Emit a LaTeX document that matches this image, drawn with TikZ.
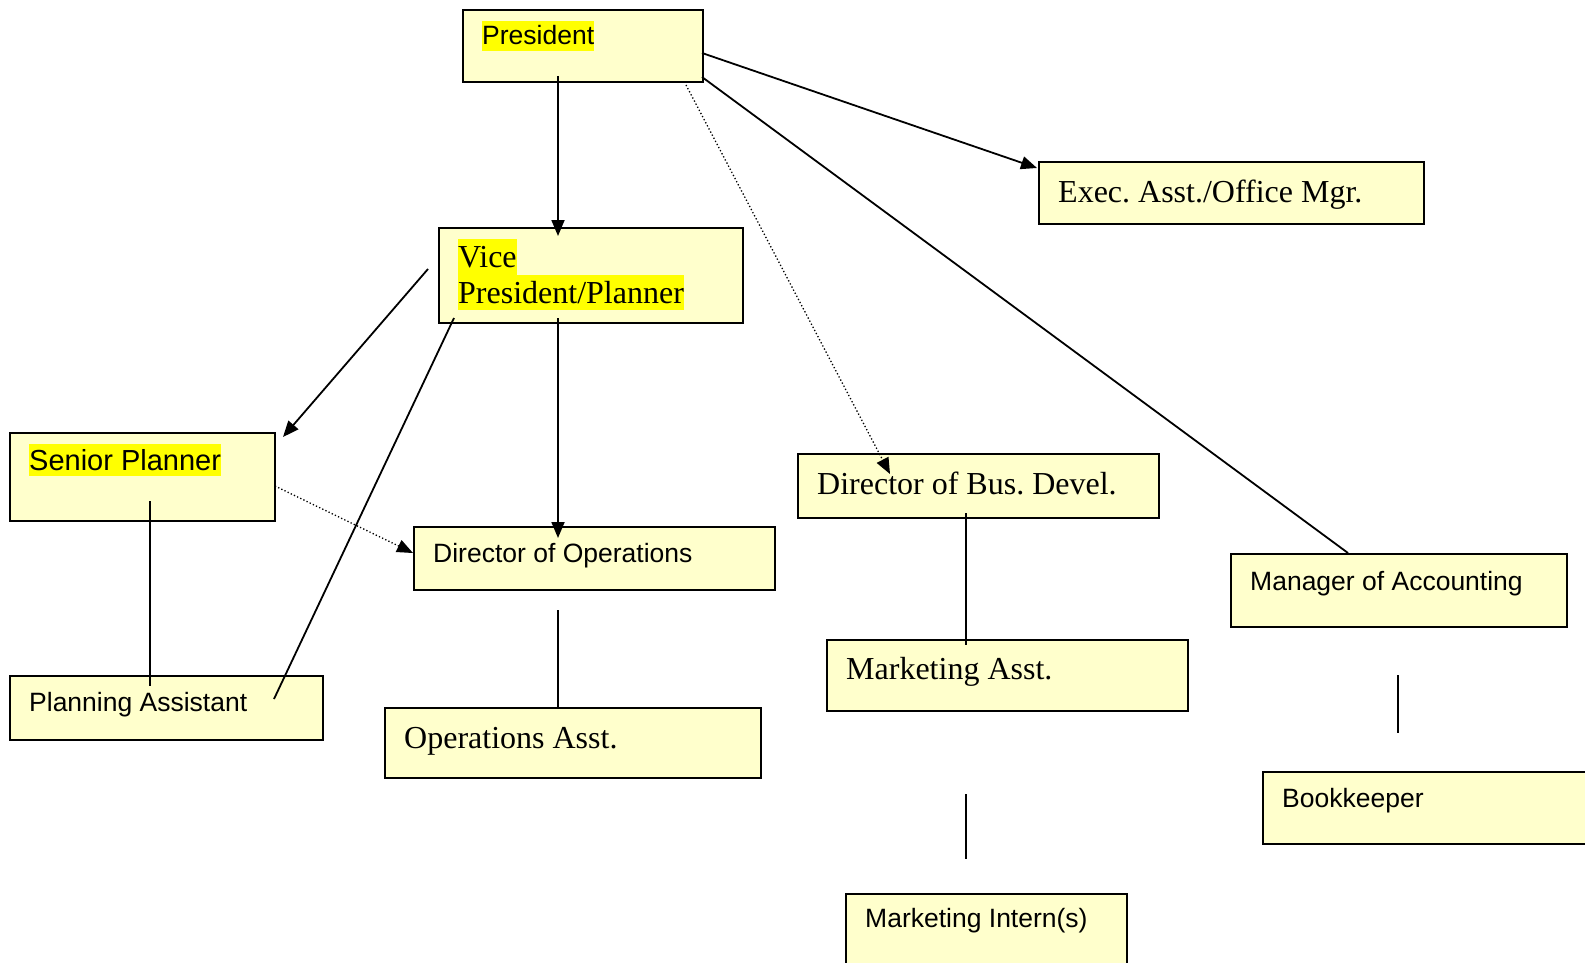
\documentclass[tikz,border=0pt]{standalone}
\usepackage{fontspec}
\setmainfont{Liberation Serif}
\setsansfont{Liberation Sans}
\usetikzlibrary{arrows.meta}
\definecolor{boxfill}{HTML}{FFFFCC}
\definecolor{hilite}{HTML}{FFFF00}
\frenchspacing
\tikzset{
  box/.style={draw, line width=1.8pt, fill=boxfill, anchor=north west, inner sep=0pt},
  tag/.style={anchor=base west, inner sep=0pt, xshift=20pt},
  sans/.style={font=\sffamily\fontsize{26.5}{30}\selectfont, text height=24pt, text depth=5.6pt},
  bigsans/.style={font=\sffamily\fontsize{29}{33}\selectfont, text height=26.2pt, text depth=6.1pt},
  serif/.style={font=\rmfamily\fontsize{32}{36}\selectfont, text height=28.5pt, text depth=6.9pt},
  hl/.style={fill=hilite},
  link/.style={line width=1.8pt},
  arrow/.style={link, -{Triangle[length=16pt,width=13pt]}},
  dots/.style={line width=1.3pt, dash pattern=on 1.3pt off 2.2pt, -{Triangle[length=16pt,width=13pt]}},
}
\begin{document}
\begin{tikzpicture}[x=1pt,y=-1pt]
\useasboundingbox (0,0) rectangle (1585,963);
\clip (0,0) rectangle (1585,963);
\node[box, minimum width=240, minimum height=72, label={[tag, sans, hl, yshift=-36pt]north west:President}] (pres) at (462,9) {};
\node[box, minimum width=304, minimum height=95, label={[tag, serif, hl, yshift=-40.7pt]north west:Vice}, label={[tag, serif, hl, yshift=-76.3pt]north west:President/Planner}] (vp) at (438,227) {};
\node[box, minimum width=385, minimum height=62, label={[tag, serif, yshift=-41pt]north west:Exec. Asst./Office Mgr.}] (exec) at (1038,161) {};
\node[box, minimum width=265, minimum height=88, label={[tag, bigsans, hl, yshift=-38pt]north west:Senior Planner}] (senior) at (9,432) {};
\node[box, minimum width=313, minimum height=64, label={[tag, sans, yshift=-36pt]north west:Planning Assistant}] (plan) at (9,675) {};
\node[box, minimum width=361, minimum height=63, label={[tag, sans, yshift=-36pt]north west:Director of Operations}] (dirops) at (413,526) {};
\node[box, minimum width=376, minimum height=70, label={[tag, serif, yshift=-41pt]north west:Operations Asst.}] (opsasst) at (384,707) {};
\node[box, minimum width=361, minimum height=64, label={[tag, serif, yshift=-41pt]north west:Director of Bus. Devel.}] (busdev) at (797,453) {};
\node[box, minimum width=361, minimum height=71, label={[tag, serif, yshift=-40pt]north west:Marketing Asst.}] (mktasst) at (826,639) {};
\node[box, minimum width=281, minimum height=110, label={[tag, sans, yshift=-34pt]north west:Marketing Intern(s)}] (intern) at (845,893) {};
\node[box, minimum width=336, minimum height=73, label={[tag, sans, yshift=-37pt]north west:Manager of Accounting}] (mgr) at (1230,553) {};
\node[box, minimum width=340, minimum height=72, label={[tag, sans, yshift=-36pt]north west:Bookkeeper}] (book) at (1262,771) {};

\coordinate (presA) at (558,76);    \coordinate (vpA) at (558,236);
\coordinate (presB) at (702,53);    \coordinate (execA) at (1037,168);
\coordinate (presC) at (702,77);    \coordinate (mgrA) at (1348,553);
\coordinate (presD) at (686,85);    \coordinate (busdevA) at (890,474);
\coordinate (vpB) at (428,269);     \coordinate (seniorA) at (283,437);
\coordinate (vpC) at (454,318);     \coordinate (planA) at (274,699);
\coordinate (vpD) at (558,318);     \coordinate (diropsA) at (558,538);
\coordinate (seniorB) at (275,486); \coordinate (diropsB) at (413,553);
\coordinate (seniorC) at (150,501); \coordinate (planB) at (150,686);
\coordinate (diropsC) at (558,610); \coordinate (opsasstA) at (558,707);
\coordinate (busdevB) at (966,513); \coordinate (mktasstA) at (966,645);
\coordinate (mktasstB) at (966,794);\coordinate (internA) at (966,859);
\coordinate (mgrB) at (1398,675);   \coordinate (bookA) at (1398,733);

\draw[arrow] (presA) -- (vpA);
\draw[arrow] (presB) -- (execA);
\draw[link] (presC) -- (mgrA);
\draw[dots] (presD) -- (busdevA);
\draw[arrow] (vpB) -- (seniorA);
\draw[link] (vpC) -- (planA);
\draw[arrow] (vpD) -- (diropsA);
\draw[dots] (seniorB) -- (diropsB);
\draw[link] (seniorC) -- (planB);
\draw[link] (diropsC) -- (opsasstA);
\draw[link] (busdevB) -- (mktasstA);
\draw[link] (mktasstB) -- (internA);
\draw[link] (mgrB) -- (bookA);
\end{tikzpicture}
\end{document}
